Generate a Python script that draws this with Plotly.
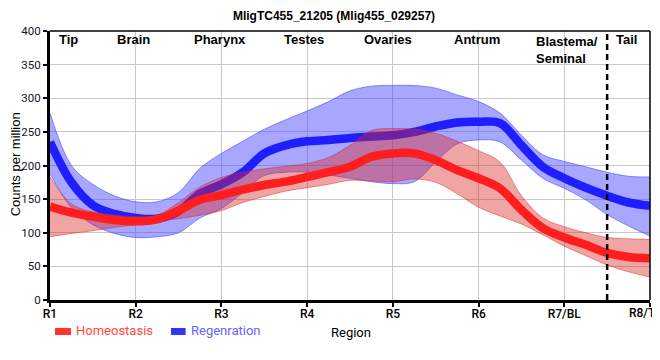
import plotly.graph_objects as go

# ---- data -------------------------------------------------------------
tick_labels = ["R1", "R2", "R3", "R4", "R5", "R6", "R7/BL", "R8/T"]
x_pos = [i * 0.25 for i in range(29)]  # sample positions along the regions R1..R8

homeo_mean = [139, 130, 124, 119, 117, 120, 133, 149, 156, 164, 171, 176, 183, 190, 198,
              213, 218, 218, 208, 193, 181, 166, 134, 107, 93, 82, 70, 64, 62]
homeo_upper = [183, 143, 131, 126, 124, 126, 145, 168, 182, 190, 195, 199, 203, 212, 230,
               252, 255, 254, 248, 236, 222, 205, 155, 122, 109, 100, 93, 91, 90]
homeo_lower = [94, 99, 103, 108, 112, 117, 121, 126, 133, 145, 154, 162, 167, 172, 178,
               177, 176, 180, 175, 158, 138, 125, 113, 97, 80, 66, 52, 42, 34]

regen_mean = [235, 175, 141, 128, 122, 121, 132, 158, 172, 190, 218, 230, 236, 238, 241,
              243, 245, 250, 258, 264, 265, 263, 230, 198, 181, 167, 155, 145, 140]
regen_upper = [278, 200, 172, 155, 146, 146, 160, 196, 218, 236, 254, 268, 281, 295, 311,
               318, 319, 319, 315, 305, 295, 278, 245, 216, 206, 198, 190, 184, 183]
regen_lower = [188, 137, 112, 99, 93, 94, 100, 122, 136, 160, 185, 190, 190, 186, 181,
               176, 173, 176, 205, 232, 238, 235, 208, 181, 166, 149, 127, 110, 95]

region_names = ["Tip", "Brain", "Pharynx", "Testes", "Ovaries", "Antrum", "Tail"]
region_x = [0.22, 0.97, 1.98, 2.96, 3.94, 4.98, 6.73]
tail_boundary = 6.5

# ---- figure -----------------------------------------------------------
fig = go.Figure()

def band(lower, upper, fillcol, edgecol):
    fig.add_trace(go.Scatter(x=x_pos, y=lower, mode="lines",
                             line=dict(color=edgecol, width=1, shape="spline"),
                             hoverinfo="skip", showlegend=False))
    fig.add_trace(go.Scatter(x=x_pos, y=upper, mode="lines", fill="tonexty",
                             fillcolor=fillcol,
                             line=dict(color=edgecol, width=1, shape="spline"),
                             hoverinfo="skip", showlegend=False))

band(regen_lower, regen_upper, "rgba(60,60,255,0.45)", "rgba(60,60,255,0.55)")
fig.add_trace(go.Scatter(x=x_pos, y=regen_mean, mode="lines", name="Regenration",
                         line=dict(color="rgb(30,30,255)", width=8.5, shape="spline"),
                         showlegend=False))
band(homeo_lower, homeo_upper, "rgba(220,40,40,0.42)", "rgba(220,40,40,0.5)")
fig.add_trace(go.Scatter(x=x_pos, y=homeo_mean, mode="lines", name="Homeostasis",
                         line=dict(color="rgb(255,30,30)", width=8.5, shape="spline"),
                         showlegend=False))

# dashed tail boundary
fig.add_shape(type="line", x0=tail_boundary, x1=tail_boundary, y0=0, y1=400,
              xref="x", yref="y", line=dict(color="black", width=2.5, dash="6px,4px"),
              layer="above")
# thin top/right frame
fig.add_shape(type="line", x0=0, x1=1, y0=1, y1=1, xref="paper", yref="paper",
              line=dict(color="black", width=1.5), layer="above")
fig.add_shape(type="line", x0=1, x1=1, y0=0, y1=1, xref="paper", yref="paper",
              line=dict(color="black", width=1.5), layer="above")

ann_font = dict(family="Liberation Sans, Arial, sans-serif", size=13, color="black")
for name, xv in zip(region_names, region_x):
    fig.add_annotation(x=xv, y=0.970, xref="x", yref="paper", text="<b>%s</b>" % name,
                       showarrow=False, xanchor="center", yanchor="middle", font=ann_font)
fig.add_annotation(x=5.65, y=0.995, xref="x", yref="paper",
                   text="<b>Blastema/</b><br><b>Seminal</b>", align="left",
                   showarrow=False, xanchor="left", yanchor="top", font=ann_font)

# legend (manual, coloured text)
leg_y = -0.1150
fig.add_shape(type="rect", x0=0.0083, x1=0.035, y0=-0.1300, y1=-0.1040,
              xref="paper", yref="paper", fillcolor="rgb(255,50,50)", line=dict(width=0))
fig.add_annotation(x=0.04, y=leg_y, xref="paper", yref="paper", text="Homeostasis",
                   showarrow=False, xanchor="left", yanchor="middle",
                   font=dict(family="Roboto, Liberation Sans, sans-serif", size=13,
                             color="rgb(255,70,70)"))
fig.add_shape(type="rect", x0=0.2017, x1=0.226, y0=-0.1300, y1=-0.1040,
              xref="paper", yref="paper", fillcolor="rgb(50,50,255)", line=dict(width=0))
fig.add_annotation(x=0.2317, y=leg_y, xref="paper", yref="paper", text="Regenration",
                   showarrow=False, xanchor="left", yanchor="middle",
                   font=dict(family="Roboto, Liberation Sans, sans-serif", size=13,
                             color="rgb(100,100,255)"))
# axis titles
fig.add_annotation(x=0.5017, y=-0.121, xref="paper", yref="paper", text="Region",
                   showarrow=False, xanchor="center", yanchor="middle",
                   font=dict(family="Roboto, Liberation Sans, sans-serif", size=13, color="black"))
fig.add_annotation(x=-0.058, y=0.505, xref="paper", yref="paper", text="Counts per million",
                   textangle=-90, showarrow=False, xanchor="center", yanchor="middle",
                   font=dict(family="Liberation Sans, Arial, sans-serif", size=13, color="black"))

tick_font = dict(family="Roboto, Liberation Sans, sans-serif", size=12, color="black", weight=500)
# last tick label sits at the right edge of the page: draw it right-aligned so it stays visible
shown_ticks = tick_labels[:-1] + [""]
fig.add_annotation(x=7, y=0, xref="x", yref="y", text=tick_labels[-1], showarrow=False,
                   xanchor="right", yanchor="top", xshift=8, yshift=-4, font=tick_font)

# page body has an 8px margin, so the figure is sized/offset to compensate
fig.update_layout(
    width=652, height=352,
    margin=dict(l=42, r=10, t=23, b=60, autoexpand=False),
    paper_bgcolor="white", plot_bgcolor="white",
    title=dict(text="<b>MligTC455_21205 (Mlig455_029257)</b>", x=0.5, xanchor="center",
               y=0.99, yanchor="top",
               font=dict(family="Liberation Sans, Arial, sans-serif", size=12, color="black")),
    showlegend=False,
)
fig.update_xaxes(range=[0, 7], tickmode="array", tickvals=list(range(8)), ticktext=shown_ticks,
                 showgrid=True, gridcolor="rgb(200,200,200)", gridwidth=1,
                 showline=True, linecolor="black", linewidth=3,
                 ticks="outside", ticklen=4, tickcolor="black", tickwidth=1.5,
                 ticklabelstandoff=-3, automargin=False,
                 tickfont=tick_font,
                 zeroline=False, fixedrange=True)
fig.update_yaxes(range=[0, 400], tickmode="array", tickvals=list(range(0, 401, 50)),
                 showgrid=True, gridcolor="rgb(200,200,200)", gridwidth=1,
                 showline=True, linecolor="black", linewidth=3,
                 ticks="outside", ticklen=4, tickcolor="black", tickwidth=1.5,
                 automargin=False,
                 tickfont=dict(family="Roboto, Liberation Sans, sans-serif", size=11.5,
                               color="rgb(20,20,40)"),
                 zeroline=False, fixedrange=True)

fig.write_html("out.html")
